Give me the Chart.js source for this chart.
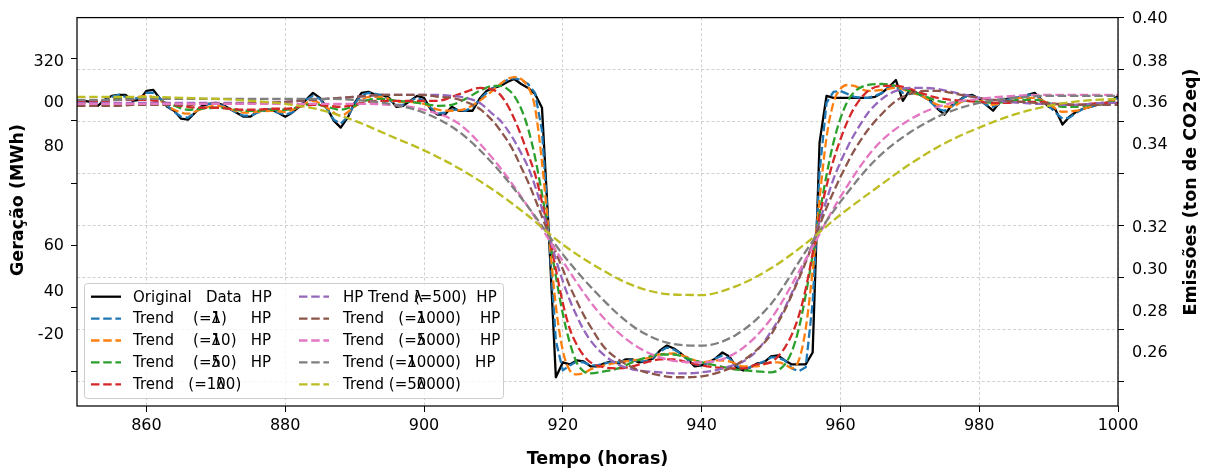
<!DOCTYPE html>
<html>
<head>
<meta charset="utf-8">
<script src="https://cdn.jsdelivr.net/npm/chart.js@4.4.1/dist/chart.umd.min.js"></script>
<style>
  html, body { margin: 0; padding: 0; background: #fff; }
  #wrap { width: 1205px; height: 472px; }
</style>
</head>
<body>
<div id="wrap"><canvas id="hpChart" width="1205" height="472"></canvas></div>
<script>
// hourly time axis (x categories)
const hours = Array.from({ length: 151 }, (_, i) => 850 + i);

// coarser grids used for the smooth HP trends
const coarseHours = [
  850, 852, 854, 856, 858, 860, 862, 864, 866, 868,
  870, 872, 874, 876, 878, 880, 882, 884, 886, 888,
  890, 892, 894, 896, 898, 900, 902, 904, 906, 908,
  910, 911, 912, 913, 914, 915, 916, 917, 918, 919,
  920, 921, 922, 923, 924, 926, 928, 930, 932, 934,
  936, 938, 940, 942, 944, 946, 948, 950, 951, 952,
  953, 954, 955, 956, 957, 958, 959, 960, 961, 962,
  964, 966, 968, 970, 972, 974, 976, 978, 980, 982,
  984, 986, 988, 990, 992, 994, 996, 998, 1000
];
const fiveHours = [
  850, 855, 860, 865, 870, 875, 880, 885, 890, 895,
  900, 905, 910, 915, 920, 925, 930, 935, 940, 945,
  950, 955, 960, 965, 970, 975, 980, 985, 990, 995, 1000
];

// Geração (MWh) – original series, one value per hour
const originalData = [
  307, 308, 307, 303, 309, 313, 314, 314, 308, 309,
  318, 319, 310, 302, 298, 290, 289, 296, 303, 305,
  306, 304, 300, 296, 292, 292, 297, 299, 299, 296,
  292, 296, 302, 309, 316, 311, 301, 288, 281, 291,
  306, 316, 317, 314, 314, 311, 302, 303, 308, 313,
  311, 299, 294, 294, 302, 298, 298, 298, 310, 318,
  321, 323, 327, 330, 325, 321, 315, 301, 173, 29,
  44, 42, 46, 45, 40, 40, 43, 45, 43, 47,
  47, 44, 45, 48, 56, 61, 58, 53, 47, 40,
  41, 44, 48, 54, 50, 39, 36, 39, 43, 44,
  50, 51, 46, 42, 42, 42, 54, 266, 313, 311,
  311, 311, 311, 311, 311, 312, 316, 322, 329, 308,
  319, 316, 312, 308, 300, 294, 303, 308, 313, 314,
  310, 304, 298, 307, 310, 311, 311, 314, 316, 309,
  302, 299, 284, 292, 297, 300, 302, 304, 305, 308,
  313
];

// HP trend lambda = 1 (hourly)
const trendL1 = [
  307, 308, 306, 305, 308, 312, 314, 312, 310, 311,
  316, 316, 310, 303, 297, 292, 291, 296, 302, 305,
  305, 303, 300, 296, 293, 293, 296, 298, 298, 296,
  294, 296, 302, 309, 313, 310, 300, 289, 285, 292,
  305, 314, 316, 315, 313, 309, 304, 304, 308, 311,
  308, 301, 295, 296, 299, 299, 298, 302, 309, 316,
  321, 325, 329, 331, 329, 325, 316, 278, 173, 66,
  36, 41, 45, 44, 41, 41, 43, 44, 44, 46,
  46, 45, 45, 49, 55, 59, 57, 53, 47, 42,
  41, 44, 48, 51, 48, 41, 37, 39, 42, 45,
  49, 49, 46, 38, 35, 39, 104, 236, 306, 317,
  318, 315, 312, 311, 311, 313, 316, 322, 322, 316,
  315, 316, 312, 307, 300, 298, 302, 308, 312, 313,
  309, 304, 302, 305, 309, 311, 312, 314, 314, 309,
  303, 296, 290, 291, 296, 300, 302, 304, 305, 308,
  311
];

// HP trends on coarseHours
const trendL10 = [
  307, 306, 308, 311, 311, 313, 308, 299, 295, 300,
  303, 300, 296, 297, 298, 297, 302, 308, 301, 293,
  302, 312, 312, 307, 307, 305, 299, 298, 300, 308,
  319, 325, 330, 332, 330, 322, 301, 246, 173, 101,
  56, 36, 32, 33, 37, 41, 44, 46, 48, 52,
  53, 49, 44, 46, 45, 40, 40, 44, 44, 42,
  38, 46, 78, 137, 209, 271, 306, 320, 324, 323,
  318, 319, 321, 317, 312, 304, 302, 308, 308, 304,
  307, 311, 311, 305, 297, 298, 302, 306, 309
];
const trendL50 = [
  307, 307, 308, 310, 311, 311, 308, 303, 299, 300,
  301, 300, 298, 298, 299, 299, 302, 305, 302, 299,
  303, 309, 310, 308, 307, 305, 303, 304, 310, 318,
  323, 323, 320, 313, 300, 280, 251, 214, 173, 131,
  93, 64, 44, 35, 33, 35, 38, 44, 49, 52,
  52, 48, 44, 41, 38, 36, 35, 34, 36, 42,
  55, 78, 112, 152, 194, 233, 266, 290, 307, 317,
  324, 325, 323, 318, 313, 308, 306, 308, 307, 306,
  307, 309, 309, 306, 302, 302, 304, 306, 307
];
const trendL100 = [
  308, 308, 308, 309, 309, 309, 307, 304, 302, 301,
  301, 300, 299, 299, 300, 300, 302, 304, 303, 302,
  304, 307, 308, 308, 308, 308, 308, 312, 317, 321,
  319, 314, 304, 290, 273, 254, 234, 206, 173, 138,
  104, 78, 62, 51, 44, 39, 38, 40, 44, 47,
  47, 44, 41, 39, 38, 38, 42, 44, 50, 59,
  72, 91, 118, 154, 191, 222, 248, 269, 287, 301,
  318, 323, 323, 320, 315, 311, 309, 308, 307, 306,
  306, 307, 307, 306, 304, 304, 305, 306, 306
];
const trendL500 = [
  306, 306, 306, 306, 306, 306, 306, 306, 306, 306,
  306, 306, 306, 306, 307, 307, 308, 309, 310, 311,
  312, 313, 314, 314, 314, 314, 314, 313, 311, 306,
  294, 288, 279, 268, 255, 241, 222, 199, 173, 148,
  126, 107, 91, 77, 66, 51, 42, 37, 35, 34,
  33, 33, 34, 36, 40, 45, 56, 75, 86, 99,
  114, 130, 147, 164, 186, 208, 229, 246, 261, 274,
  296, 310, 318, 321, 321, 320, 317, 314, 311, 309,
  307, 306, 305, 305, 304, 304, 305, 306, 306
];
const trendL1000 = [
  303, 303, 303, 303, 304, 304, 304, 304, 304, 305,
  305, 305, 305, 306, 306, 307, 308, 309, 310, 311,
  312, 313, 314, 314, 314, 314, 312, 311, 307, 300,
  287, 278, 268, 256, 241, 226, 209, 191, 173, 155,
  138, 121, 106, 92, 80, 59, 47, 39, 34, 31,
  29, 29, 30, 33, 38, 46, 57, 72, 84, 97,
  112, 128, 145, 163, 182, 200, 216, 231, 245, 258,
  279, 295, 308, 315, 318, 318, 316, 313, 311, 309,
  308, 307, 306, 305, 305, 304, 304, 304, 304
];

// HP trends on fiveHours
const trendL5000 = [
  305, 305, 305, 305, 305, 305, 305, 305, 305, 304,
  299, 285, 249, 201, 146, 96, 63, 47, 44, 54,
  88, 148, 211, 261, 289, 304, 310, 313, 314, 314, 314
];
const trendL10000 = [
  309, 309, 310, 310, 310, 310, 310, 310, 309, 305,
  296, 277, 244, 201, 153, 113, 81, 64, 61, 72,
  103, 156, 206, 248, 276, 295, 306, 311, 313, 313, 313
];
const trendL50000 = [
  312, 312, 312, 311, 310, 308, 305, 299, 288, 273,
  258, 240, 218, 192, 163, 140, 122, 113, 112, 121,
  139, 164, 193, 219, 244, 265, 281, 294, 303, 308, 310
];

const legendLabels = [
  'Original   Data  HP',
  'Trend    (=λ1)     HP',
  'Trend    (=λ10)   HP',
  'Trend    (=λ50)   HP',
  'Trend   (=1λ00)',
  'HP Trend λ(=500)  HP',
  'Trend   (=λ1000)    HP',
  'Trend   (=λ5000)    HP',
  'Trend (=λ10000)   HP',
  'Trend (=5λ0000)'
];
const lineColors = ['#000000', '#1f77b4', '#ff7f0e', '#2ca02c', '#d62728',
  '#9467bd', '#8c564b', '#e377c2', '#7f7f7f', '#bcbd22'];

// axis ticks (tick marks and the labels as they sit in the figure)
const xTicks = [860, 880, 900, 920, 940, 960, 980, 1000];
const leftTickMarks = [351, 288, 225, 162, 99, 35];
const leftLabelValues = [347, 305.5, 262, 162, 115, 72];
const leftTickLabels = ['320', '00', '80', '60', '40', '-20'];
const rightTickMarks = [0.40, 0.38, 0.36, 0.34, 0.32, 0.30, 0.28, 0.26];
const rightLabelValues = [0.3995, 0.38286, 0.36705, 0.35105, 0.31905, 0.30286, 0.28686, 0.27105];
const rightTickLabels = ['0.40', '0.38', '0.36', '0.34', '0.32', '0.30', '0.28', '0.26'];

function pairs(xs, ys) {
  return xs.map((x, i) => ({ x: x, y: ys[i] }));
}

function buildAxisTicks(marks, labelValues, labels) {
  const list = marks.map(v => ({ value: v, label: '', mark: true }));
  labelValues.forEach((v, i) => {
    const same = list.find(t => Math.abs(t.value - v) < 1e-9);
    if (same) same.label = labels[i];
    else list.push({ value: v, label: labels[i], mark: false });
  });
  return list.sort((a, b) => a.value - b.value);
}
const leftTicks = buildAxisTicks(leftTickMarks, leftLabelValues, leftTickLabels);
const rightTicks = buildAxisTicks(rightTickMarks, rightLabelValues, rightTickLabels);

const DASH = [8.5, 3.7];
const series = [
  [hours, originalData], [hours, trendL1], [coarseHours, trendL10],
  [coarseHours, trendL50], [coarseHours, trendL100], [coarseHours, trendL500],
  [coarseHours, trendL1000], [fiveHours, trendL5000], [fiveHours, trendL10000],
  [fiveHours, trendL50000]
];
const datasets = series.map((s, i) => ({
  label: legendLabels[i],
  data: pairs(s[0], s[1]),
  borderColor: lineColors[i],
  borderWidth: 2.3,
  borderDash: i === 0 ? [] : DASH,
  borderJoinStyle: 'round',
  pointRadius: 0,
  tension: 0,
  cubicInterpolationMode: i >= 2 ? 'monotone' : 'default',
  order: 9 - i
}));

const tickFont = { family: 'DejaVu Sans', size: 16 };
const titleFont = 'bold 17.5px "DejaVu Sans"';

function drawLegendLabel(ctx, text, x, y) {
  const k = text.indexOf('λ');
  if (k < 0) { ctx.fillText(text, x, y); return; }
  const before = text.slice(0, k);
  ctx.fillText(before, x, y);
  const x2 = x + ctx.measureText(before).width;
  ctx.fillText('λ', x2, y);
  ctx.fillText(text.slice(k + 1), x2, y);
}

const decor = {
  id: 'decor',
  afterDatasetsDraw(chart) {
    const { ctx, chartArea: a } = chart;
    ctx.save();
    ctx.strokeStyle = '#000';
    ctx.lineWidth = 1.25;
    ctx.setLineDash([]);
    ctx.strokeRect(a.left, a.top, a.right - a.left, a.bottom - a.top);
    ctx.restore();
  },
  afterDraw(chart) {
    const ctx = chart.ctx;
    ctx.save();
    // y titles
    ctx.fillStyle = '#000';
    ctx.font = titleFont;
    ctx.textAlign = 'center';
    ctx.textBaseline = 'middle';
    ctx.translate(18.5, 200);
    ctx.rotate(-Math.PI / 2);
    ctx.fillText('Geração (MWh)', 0, 0);
    ctx.restore();
    ctx.save();
    ctx.fillStyle = '#000';
    ctx.font = titleFont;
    ctx.textAlign = 'center';
    ctx.textBaseline = 'middle';
    ctx.translate(1191, 192);
    ctx.rotate(-Math.PI / 2);
    ctx.fillText('Emissões (ton de CO2eq)', 0, 0);
    ctx.restore();

    // legend
    ctx.save();
    ctx.beginPath();
    ctx.roundRect(84.5, 283.5, 419, 115, 3);
    ctx.fillStyle = 'rgba(255,255,255,0.8)';
    ctx.fill();
    ctx.strokeStyle = '#cccccc';
    ctx.lineWidth = 1;
    ctx.stroke();
    ctx.font = '15px "DejaVu Sans"';
    ctx.textAlign = 'left';
    ctx.textBaseline = 'middle';
    chart.data.datasets.forEach((ds, i) => {
      const col = i < 5 ? 0 : 1;
      const row = i % 5;
      const y = 296.7 + row * 21.9;
      const lx = col === 0 ? 91 : 299;
      const tx = col === 0 ? 133 : 343;
      ctx.beginPath();
      ctx.setLineDash(ds.borderDash);
      ctx.strokeStyle = ds.borderColor;
      ctx.lineWidth = 2.3;
      ctx.moveTo(lx, y);
      ctx.lineTo(lx + 30, y);
      ctx.stroke();
      ctx.setLineDash([]);
      ctx.fillStyle = '#000';
      drawLegendLabel(ctx, ds.label, tx, y + 1);
    });
    ctx.restore();
  }
};

new Chart(document.getElementById('hpChart'), {
  type: 'line',
  data: { datasets: datasets },
  plugins: [decor],
  options: {
    responsive: false,
    animation: false,
    layout: { padding: { top: 14, left: 0, right: 0, bottom: 0 } },
    plugins: { legend: { display: false }, tooltip: { enabled: false } },
    scales: {
      x: {
        type: 'linear',
        min: 850,
        max: 1000,
        afterBuildTicks: s => { s.ticks = xTicks.map(v => ({ value: v })); },
        afterFit: s => { s.height = 66; },
        ticks: { font: tickFont, color: '#000', padding: 4, autoSkip: false, maxRotation: 0,
          callback: v => String(v) },
        grid: { color: '#c6c6c6', lineWidth: 0.8, tickLength: 6, tickColor: '#000',
          tickWidth: 1, tickBorderDash: [] },
        border: { display: false, dash: [3, 2.2] },
        title: { display: true, text: 'Tempo (horas)', color: '#000',
          font: { family: 'DejaVu Sans', size: 17.5, weight: 'bold' },
          padding: { top: 0, bottom: 2 } }
      },
      y: {
        type: 'linear',
        position: 'left',
        min: 0,
        max: 392,
        afterBuildTicks: s => { s.ticks = leftTicks.map(t => ({ value: t.value })); },
        afterFit: s => { s.width = 77; },
        ticks: { font: tickFont, color: '#000', padding: 7, autoSkip: false,
          callback: (v, i) => leftTicks[i] ? leftTicks[i].label : '' },
        grid: { drawOnChartArea: false, tickLength: 6, tickWidth: 1, tickBorderDash: [],
          tickColor: c => (leftTicks[c.index] && leftTicks[c.index].mark) ? '#000' : 'rgba(0,0,0,0)' },
        border: { display: false }
      },
      y2: {
        type: 'linear',
        position: 'right',
        min: 0.25067,
        max: 0.40,
        afterBuildTicks: s => { s.ticks = rightTicks.map(t => ({ value: t.value })); },
        afterFit: s => { s.width = 87; },
        ticks: { font: tickFont, color: '#000', padding: 8, autoSkip: false,
          callback: (v, i) => rightTicks[i] ? rightTicks[i].label : '' },
        grid: {
          lineWidth: 0.8, tickLength: 6, tickWidth: 1, tickBorderDash: [],
          color: c => {
            const t = rightTicks[c.index];
            return (t && t.mark && t.value < 0.399) ? '#c6c6c6' : 'rgba(0,0,0,0)';
          },
          tickColor: c => (rightTicks[c.index] && rightTicks[c.index].mark) ? '#000' : 'rgba(0,0,0,0)'
        },
        border: { display: false, dash: [3, 2.2] }
      }
    }
  }
});
</script>
</body>
</html>
